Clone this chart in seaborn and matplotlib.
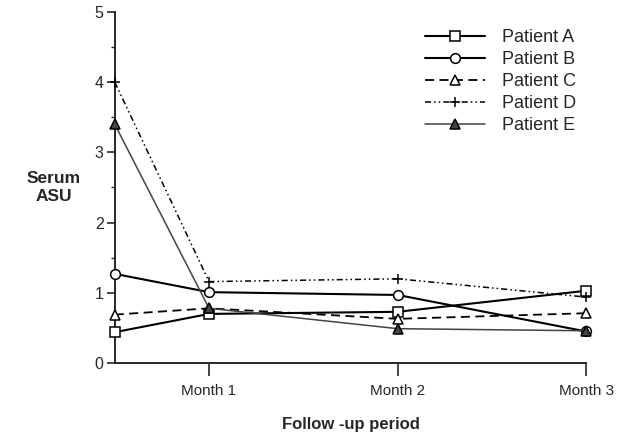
import pandas as pd
import matplotlib
matplotlib.use("Agg")
import matplotlib.pyplot as plt
from matplotlib.ticker import MultipleLocator
import seaborn as sns

# time points (baseline sits half a step before Month 1)
timepoints = [0.5, 1, 2, 3]
month_ticks = [1, 2, 3]
month_labels = ["Month 1", "Month 2", "Month 3"]

patients = ["Patient A", "Patient B", "Patient C", "Patient D", "Patient E"]
patient_a = [0.44, 0.70, 0.73, 1.03]
patient_b = [1.27, 1.01, 0.97, 0.45]
patient_c = [0.69, 0.78, 0.63, 0.71]
patient_d = [4.00, 1.16, 1.20, 0.94]
patient_e = [3.40, 0.78, 0.49, 0.46]
values = [patient_a, patient_b, patient_c, patient_d, patient_e]

# --- styles per patient ---
styles = {
    "Patient A": dict(marker="s", linestyle="-", mfc="white", lw=1.5, color="black"),
    "Patient B": dict(marker="o", linestyle="-", mfc="white", lw=1.5, color="black"),
    "Patient C": dict(marker="^", linestyle=(0, (5, 3)), mfc="white", lw=1.3, color="black"),
    "Patient D": dict(marker="+", linestyle=(0, (4, 2, 1, 2, 1, 2)), mfc="black", lw=1.1, color="black"),
    "Patient E": dict(marker="^", linestyle="-", mfc="#444444", lw=1.1, color="#444444"),
}

sns.set_style("ticks")
plt.rcParams["font.family"] = ["Liberation Sans", "DejaVu Sans"]

fig = plt.figure(figsize=(6.27, 4.38), dpi=100)
ax = fig.add_axes([0.183, 0.171, 0.752, 0.802])

for name, vals in zip(patients, values):
    df = pd.DataFrame({"time": timepoints, "asu": vals})
    st = styles[name]
    sns.lineplot(data=df, x="time", y="asu", ax=ax, label=name,
                 color=st["color"], linestyle=st["linestyle"], linewidth=st["lw"],
                 marker=st["marker"], markersize=7, markerfacecolor=st["mfc"],
                 markeredgecolor="black", markeredgewidth=1.1, clip_on=False, zorder=3)

ax.set_xlim(0.5, 3)
ax.set_ylim(0, 5)
ax.set_xticks(month_ticks)
ax.set_xticklabels(month_labels, fontsize=11)
ax.yaxis.set_major_locator(MultipleLocator(1))
ax.yaxis.set_minor_locator(MultipleLocator(0.5))
ax.tick_params(axis="y", labelsize=11.5, length=6, width=1.2, direction="out", pad=2)
ax.tick_params(axis="y", which="minor", length=3, width=1.0)
ax.tick_params(axis="x", length=9, width=1.2, pad=6)
sns.despine(ax=ax)
for sp in ("left", "bottom"):
    ax.spines[sp].set_linewidth(1.4)

ax.set_xlabel("Follow -up period", fontsize=12, fontweight="bold", labelpad=14)
ax.set_ylabel("Serum\nASU", fontsize=12.5, fontweight="bold", rotation=0,
              ha="center", va="center", labelpad=0)
ax.yaxis.set_label_coords(-0.13, 0.5)

leg = ax.legend(loc="upper left", bbox_to_anchor=(0.658, 0.95), frameon=False,
                fontsize=13, handlelength=3.3, handletextpad=0.95, labelspacing=0.27,
                borderpad=0, borderaxespad=0)

plt.savefig("out.png", dpi=100)
